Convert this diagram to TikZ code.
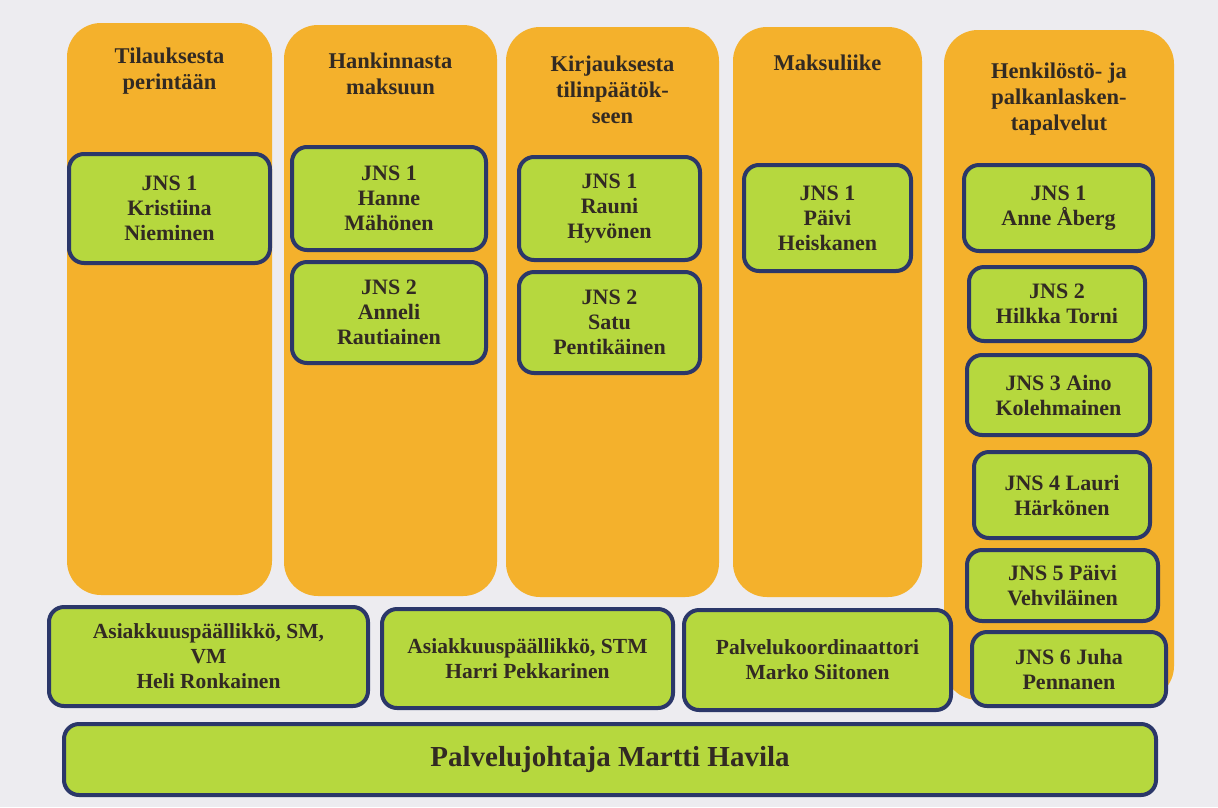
\documentclass[tikz,border=0pt]{standalone}
\usepackage{fontspec}
\setmainfont{Liberation Serif}
\usetikzlibrary{positioning}
\definecolor{Paper}{RGB}{237,236,240}
\definecolor{Lane}{RGB}{244,177,44}
\definecolor{Leaf}{RGB}{182,216,62}
\definecolor{Edge}{RGB}{43,55,105}
\definecolor{Ink}{RGB}{50,42,35}
\tikzset{
  lane/.style={rectangle,rounded corners=34pt,fill=Lane,inner sep=0pt},
  ltitle/.style={align=center,text=Ink,font=\fontsize{22.5}{26}\selectfont\bfseries},
  gbase/.style={rectangle,rounded corners=15pt,fill=Leaf,draw=Edge,line width=4pt,align=center,text=Ink,inner sep=0pt},
  gbox/.style={gbase,font=\fontsize{22}{25}\selectfont\bfseries},
  gmid/.style={gbase,font=\fontsize{21.5}{25}\selectfont\bfseries},
  gtop/.style={gbase,font=\fontsize{29}{32}\selectfont\bfseries}
}
\begin{document}
\begin{tikzpicture}[x=1pt,y=-1pt]
\useasboundingbox (0,0) rectangle (1218,807);
\fill[Paper] (0,0) rectangle (1218,807);
% orange lanes
\node[lane,minimum width=205pt,minimum height=572pt] (laneA) at (169.5,309) {};
\node[lane,minimum width=213pt,minimum height=571pt] (laneB) at (390.5,310.5) {};
\node[lane,minimum width=213pt,minimum height=570pt] (laneC) at (612.5,312) {};
\node[lane,minimum width=189pt,minimum height=570pt] (laneD) at (827.5,312) {};
\node[lane,minimum width=230pt,minimum height=670pt] (laneE) at (1059,365) {};
\node[ltitle] (tA) at (169.5,71) {Tilauksesta\\perintään};
\node[ltitle] (tB) at (390.5,74) {Hankinnasta\\maksuun};
\node[ltitle] (tC) at (612.5,90) {Kirjauksesta\\tilinpäätök-\\seen};
\node[ltitle] (tD) at (827.5,63) {Maksuliike};
\node[ltitle] (tE) at (1059,99) {Henkilöstö- ja\\palkanlasken-\\tapalvelut};
% people
\node[gbox,minimum width=201pt,minimum height=109pt] (a1) at (169.5,208.5) {JNS 1\\Kristiina\\Nieminen};
\node[gbox,minimum width=194pt,minimum height=103pt] (b1) at (389,198.5) {JNS 1\\Hanne\\Mähönen};
\node[gbox,minimum width=194pt,minimum height=101pt] (b2) at (389,312.5) {JNS 2\\Anneli\\Rautiainen};
\node[gbox,minimum width=181pt,minimum height=103pt] (c1) at (609.5,208.5) {JNS 1\\Rauni\\Hyvönen};
\node[gbox,minimum width=181pt,minimum height=101pt] (c2) at (609.5,322.5) {JNS 2\\Satu\\Pentikäinen};
\node[gbox,minimum width=167pt,minimum height=106pt] (d1) at (827.5,218) {JNS 1\\Päivi\\Heiskanen};
\node[gbox,minimum width=189pt,minimum height=86pt] (e1) at (1058.5,208) {JNS 1\\Anne Åberg};
\node[gbox,minimum width=176pt,minimum height=74pt] (e2) at (1057,304) {JNS 2\\Hilkka Torni};
\node[gbox,minimum width=183pt,minimum height=80pt] (e3) at (1058.5,395) {JNS 3 Aino\\Kolehmainen};
\node[gbox,minimum width=176pt,minimum height=86pt] (e4) at (1062,495) {JNS 4 Lauri\\Härkönen};
\node[gbox,minimum width=191pt,minimum height=71pt] (e5) at (1062.5,585.5) {JNS 5 Päivi\\Vehviläinen};
\node[gbox,minimum width=194pt,minimum height=74pt] (e6) at (1069,669) {JNS 6 Juha\\Pennanen};
% managers
\node[gmid,minimum width=319pt,minimum height=99pt] (m1) at (208.5,656.5) {Asiakkuuspäällikkö, SM,\\VM\\Heli Ronkainen};
\node[gmid,minimum width=291pt,minimum height=99pt] (m2) at (527.5,658.5) {Asiakkuuspäällikkö, STM\\Harri Pekkarinen};
\node[gmid,minimum width=267pt,minimum height=100pt] (m3) at (817.5,660) {Palvelukoordinaattori\\Marko Siitonen};
\node[gtop,minimum width=1092pt,minimum height=71pt] (boss) at (610,759.5) {Palvelujohtaja Martti Havila};
\end{tikzpicture}
\end{document}
